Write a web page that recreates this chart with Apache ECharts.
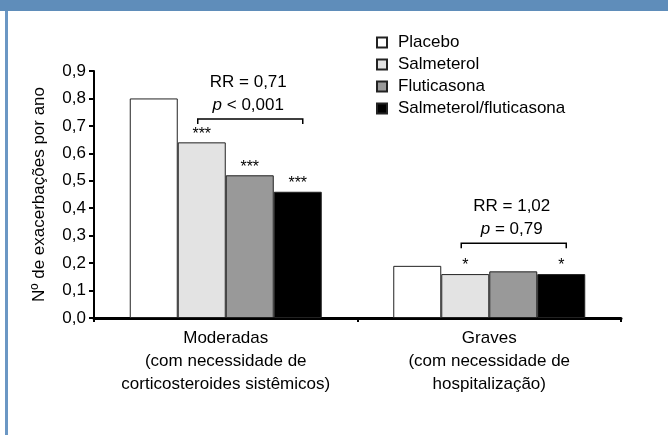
<!DOCTYPE html>
<html><head><meta charset="utf-8">
<script src="https://cdn.jsdelivr.net/npm/echarts@6/dist/echarts.min.js"></script>
<style>html,body{margin:0;padding:0;background:#fff}#c{width:668px;height:435px}</style>
</head><body><div id="c"></div>
<script>
const categories = ['Moderadas\n(com necessidade de\ncorticosteroides sistêmicos)', 'Graves\n(com necessidade de\nhospitalização)'];
const seriesNames = ['Placebo', 'Salmeterol', 'Fluticasona', 'Salmeterol/fluticasona'];
const placebo = [0.80, 0.19];
const salmeterol = [0.64, 0.16];
const fluticasona = [0.52, 0.17];
const salmFlut = [0.46, 0.16];
const starsPlacebo = ['', ''];
const starsSalmeterol = ['***', '*'];
const starsFluticasona = ['***', ''];
const starsSalmFlut = ['***', '*'];
const yTicks = [0, 0.1, 0.2, 0.3, 0.4, 0.5, 0.6, 0.7, 0.8, 0.9];
const bracketCat = [0, 1];
const bracketY = [0.725, 0.272];
const rrText = ['RR = 0,71', 'RR = 1,02'];
const pText = ['< 0,001', '= 0,79'];
const yAxisName = 'Nº de exacerbações por ano';

const FONT = 'Liberation Sans, Arial, sans-serif';
const colors = ['#ffffff', '#e3e3e3', '#999999', '#000000'];
const values = [placebo, salmeterol, fluticasona, salmFlut];
const stars = [starsPlacebo, starsSalmeterol, starsFluticasona, starsSalmFlut];
const BAR_W = 48;

const chart = echarts.init(document.getElementById('c'), null, {renderer: 'canvas'});

const barSeries = seriesNames.map((name, i) => ({
  name, type: 'bar', data: values[i], barWidth: BAR_W, barGap: '0%',
  itemStyle: {color: colors[i], borderColor: '#222', borderWidth: 1},
  label: {show: true, position: 'top', distance: 0, color: '#000', fontSize: 16, fontFamily: FONT,
    formatter: p => stars[i][p.dataIndex]},
  emphasis: {disabled: true}, animation: false
}));

const bracketSeries = {
  type: 'custom', silent: true, animation: false, z: 10,
  data: bracketCat.map((c, i) => [c, bracketY[i], i]),
  encode: {x: 0, y: 1},
  renderItem: function (params, api) {
    const idx = api.value(2);
    const p = api.coord([api.value(0), api.value(1)]);
    const x1 = p[0] + (1 - 1.5) * BAR_W - 4;
    const x2 = p[0] + (3 - 1.5) * BAR_W + 5;
    const y = p[1];
    const cx = (x1 + x2) / 2 - 2;
    return {
      type: 'group', children: [
        {type: 'polyline', shape: {points: [[x1, y + 5], [x1, y], [x2, y], [x2, y + 5]]},
          style: {stroke: '#000', lineWidth: 1.5, fill: null}},
        {type: 'text', style: {text: rrText[idx], x: cx, y: y - 37, align: 'center', verticalAlign: 'middle',
          fontSize: 17, fontFamily: FONT, fill: '#000'}},
        {type: 'text', style: {text: '{i|p} ' + pText[idx], x: cx, y: y - 14, align: 'center', verticalAlign: 'middle',
          fontSize: 17, fontFamily: FONT, fill: '#000',
          rich: {i: {fontStyle: 'italic', fontSize: 17, fontFamily: FONT, fill: '#000'}}}}
      ]
    };
  }
};

chart.setOption({
  animation: false,
  textStyle: {fontFamily: FONT},
  grid: {left: 94, right: 47, top: 71, bottom: 117, containLabel: false},
  legend: {
    data: seriesNames, orient: 'vertical', left: 371, top: 29, itemWidth: 10, itemHeight: 10, itemGap: 5,
    icon: 'rect',
    textStyle: {fontSize: 17, fontFamily: FONT, color: '#000', padding: [0, 0, 0, 6]},
    selectedMode: false
  },
  xAxis: {
    type: 'category', data: categories,
    axisLine: {lineStyle: {color: '#000', width: 3}},
    axisTick: {show: true, length: 4, lineStyle: {color: '#000', width: 2}},
    axisLabel: {fontSize: 17, fontFamily: FONT, color: '#000', lineHeight: 23, margin: 9, interval: 0}
  },
  yAxis: {
    type: 'value', min: 0, max: 0.9, interval: 0.1,
    name: yAxisName, nameLocation: 'middle', nameGap: 46,
    nameTextStyle: {fontSize: 17, fontFamily: FONT, color: '#000'},
    axisLine: {show: true, lineStyle: {color: '#000', width: 2}},
    axisTick: {show: true, length: 5, lineStyle: {color: '#000', width: 2}},
    splitLine: {show: false},
    axisLabel: {fontSize: 17, fontFamily: FONT, color: '#000', margin: 8,
      formatter: v => yTicks.includes(Math.round(v * 10) / 10) ? v.toFixed(1).replace('.', ',') : ''}
  },
  graphic: [
    {type: 'rect', left: 0, top: 0, shape: {width: 668, height: 11}, style: {fill: '#5f8dba'}, silent: true},
    {type: 'rect', left: 5, top: 11, shape: {width: 3, height: 424}, style: {fill: '#6b97c4'}, silent: true}
  ],
  series: barSeries.concat([bracketSeries])
});
</script>
</body></html>
